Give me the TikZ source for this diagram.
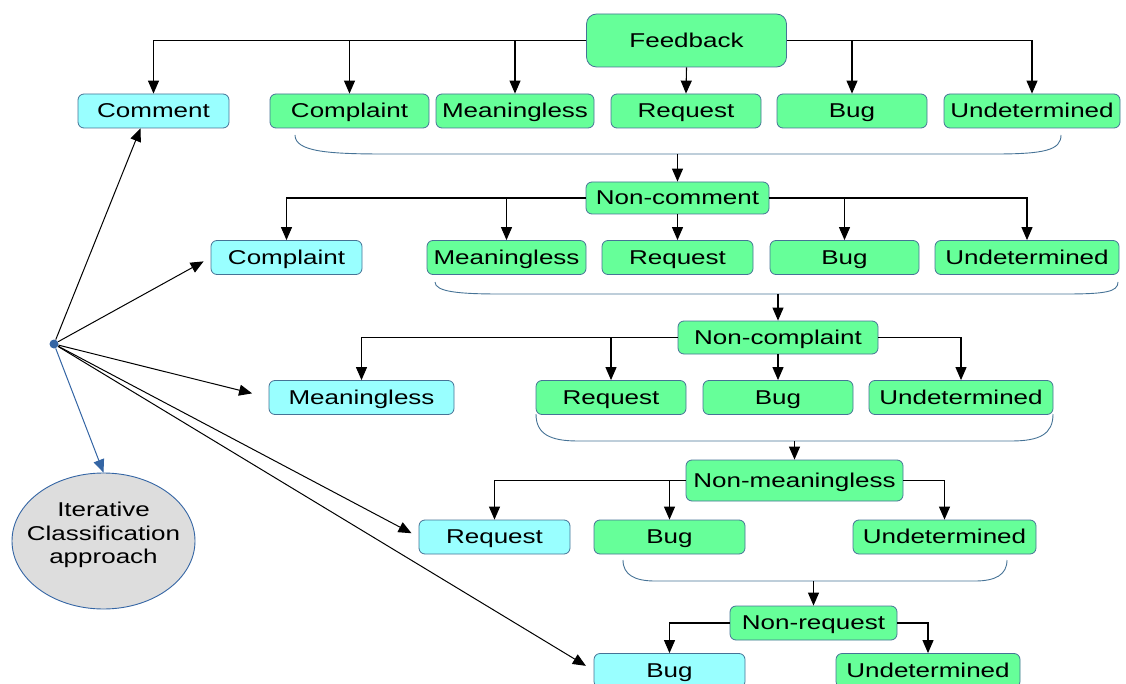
\documentclass[tikz,border=0pt]{standalone}
\usepackage{fontspec}
\setmainfont[FakeStretch=1.3]{Liberation Sans}
\definecolor{boxgreen}{RGB}{102,255,153}
\definecolor{boxcyan}{RGB}{153,255,255}
\definecolor{edgeblue}{RGB}{70,115,150}
\definecolor{hubblue}{RGB}{52,101,164}
\definecolor{ovalgray}{RGB}{221,221,221}
\usetikzlibrary{arrows.meta, shapes.geometric}

\begin{document}
\begin{tikzpicture}[x=1pt, y=-1pt,
  box/.style={draw=edgeblue, fill=boxgreen, rounded corners=6pt, minimum height=34pt, inner sep=0pt, line width=0.8pt, text height=18pt, text depth=4.2pt, font=\fontsize{20}{23.5}\selectfont},
  cbox/.style={box, fill=boxcyan},
  arr/.style={-{Triangle[length=13pt,width=11pt]}, line width=1.1pt},
  hubarr/.style={arr, line width=1pt, shorten >=#1},
  hubarr/.default=0pt,
  brace/.style={draw=edgeblue, line width=0.9pt},
  oval/.style={ellipse, draw=hubblue, fill=ovalgray, line width=0.9pt, inner sep=0pt}
]
  \useasboundingbox (0,0) rectangle (1126,684);

  \node[box, minimum width=200pt, minimum height=53pt, rounded corners=10pt] (fb) at (686.5,40.5) {Feedback};
  \node[cbox, minimum width=151pt] (cmt1) at (153.5,111) {Comment};
  \node[box, minimum width=159pt] (cpl1) at (349.5,111) {Complaint};
  \node[box, minimum width=158pt] (mng1) at (515,111) {Meaningless};
  \node[box, minimum width=150pt] (req1) at (686,111) {Request};
  \node[box, minimum width=150pt] (bug1) at (852,111) {Bug};
  \node[box, minimum width=176pt] (und1) at (1032,111) {Undetermined};

  \node[box, minimum width=183pt, minimum height=32pt] (nc) at (677.5,198) {Non-comment};
  \node[cbox, minimum width=151pt] (cpl2) at (286.5,257.5) {Complaint};
  \node[box, minimum width=159pt] (mng2) at (506.5,257.5) {Meaningless};
  \node[box, minimum width=151pt] (req2) at (677.5,257.5) {Request};
  \node[box, minimum width=149pt] (bug2) at (844.5,257.5) {Bug};
  \node[box, minimum width=184pt] (und2) at (1027,257.5) {Undetermined};

  \node[box, minimum width=200pt, minimum height=33pt] (ncp) at (778,337.5) {Non-complaint};
  \node[cbox, minimum width=185pt] (mng3) at (361.5,397.5) {Meaningless};
  \node[box, minimum width=150pt] (req3) at (611,397.5) {Request};
  \node[box, minimum width=150pt] (bug3) at (778,397.5) {Bug};
  \node[box, minimum width=184pt] (und3) at (961,397.5) {Undetermined};

  \node[box, minimum width=217pt, minimum height=41pt] (nmg) at (794.5,480.5) {Non-meaningless};
  \node[cbox, minimum width=151pt] (req4) at (494.5,537) {Request};
  \node[box, minimum width=151pt] (bug4) at (669.5,537) {Bug};
  \node[box, minimum width=183pt] (und4) at (944.5,537) {Undetermined};

  \node[box, minimum width=167pt] (nrq) at (813.5,623) {Non-request};
  \node[cbox, minimum width=151pt] (bug5) at (669.5,670.5) {Bug};
  \node[box, minimum width=184pt] (und5) at (928,670.5) {Undetermined};

  \node[circle, fill=hubblue, inner sep=0pt, minimum size=9pt] (hub) at (54,344) {};
  \node[oval, minimum width=183pt, minimum height=136pt,
    label={[align=center, yshift=6pt, font=\fontsize{20}{23.5}\selectfont]center:{Iterative\\Classification\\approach}}] (icl) at (103.5,541) {};

  % tree
  \draw[arr] (fb.west) -| (cmt1.north);
  \draw[arr] (fb.west) -| (cpl1.north);
  \draw[arr] (fb.west) -| (mng1.north);
  \draw[arr] (fb.south) -- (req1.north);
  \draw[arr] (fb.east) -| (bug1.north);
  \draw[arr] (fb.east) -| (und1.north);

  \draw[arr] (nc.west) -| (cpl2.north);
  \draw[arr] (nc.west) -| (mng2.north);
  \draw[arr] (nc.south) -- (req2.north);
  \draw[arr] (nc.east) -| (bug2.north);
  \draw[arr] (nc.east) -| (und2.north);

  \draw[arr] (ncp.west) -| (mng3.north);
  \draw[arr] (ncp.west) -| (req3.north);
  \draw[arr] (ncp.south) -- (bug3.north);
  \draw[arr] (ncp.east) -| (und3.north);

  \draw[arr] (nmg.west) -| (req4.north);
  \draw[arr] (nmg.west) -| (bug4.north);
  \draw[arr] (nmg.east) -| (und4.north);

  \draw[arr] (nrq.west) -| (bug5.north);
  \draw[arr] (nrq.east) -| (und5.north);

  % braces
  \draw[brace] (295,135) .. controls (295,152) and (330,154) .. (385,154) -- (995,154) .. controls (1045,154) and (1061,150) .. (1061,135);
  \draw[brace] (435,282) .. controls (435,292) and (460,294) .. (500,294) -- (1065,294) .. controls (1105,294) and (1118,292) .. (1118,282);
  \draw[brace] (536,414) .. controls (536,434) and (550,441) .. (578,441) -- (1011,441) .. controls (1040,441) and (1053,434) .. (1053,414);
  \draw[brace] (623,560) .. controls (623,575) and (635,581) .. (655,581) -- (975,581) .. controls (995,581) and (1007,575) .. (1007,560);
  \coordinate (b1) at (677.5,154);
  \coordinate (b2) at (778,294);
  \coordinate (b3) at (794.5,441);
  \coordinate (b4) at (813.5,581);
  \draw[arr] (b1) -- (nc.north);
  \draw[arr] (b2) -- (ncp.north);
  \draw[arr] (b3) -- (nmg.north);
  \draw[arr] (b4) -- (nrq.north);

  % hub
  \draw[hubarr] (hub) -- ([xshift=-13pt]cmt1.south);
  \draw[hubarr=8pt] (hub) -- (cpl2.west);
  \draw[hubarr=17pt] (hub) -- (mng3.west);
  \draw[hubarr=8pt] (hub) -- (req4.west);
  \draw[hubarr=9pt] (hub) -- (bug5.west);
  \draw[hubarr, color=hubblue] (hub) -- (icl.north);
\end{tikzpicture}
\end{document}
